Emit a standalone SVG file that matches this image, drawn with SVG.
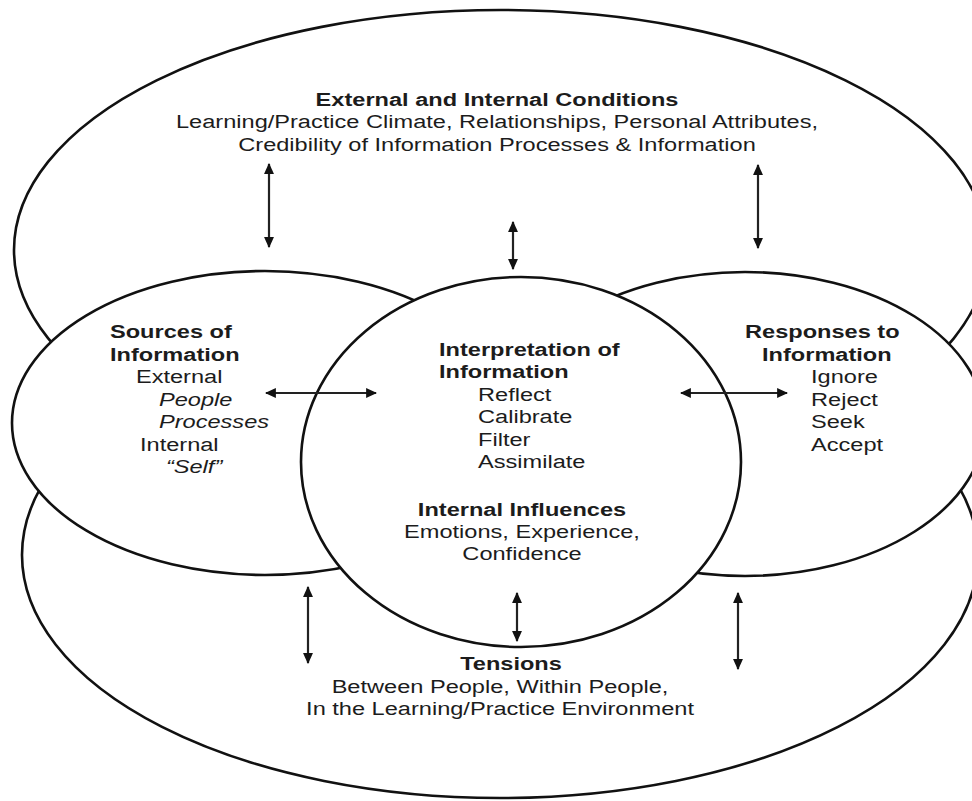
<svg xmlns="http://www.w3.org/2000/svg" width="972" height="801" viewBox="0 0 972 801">
  <defs>
    <marker id="head" viewBox="0 0 10 10" markerUnits="userSpaceOnUse" markerWidth="11" markerHeight="11" refX="9" refY="5" orient="auto-start-reverse">
      <path d="M0,0.5 L10,5 L0,9.5 z" fill="#111"/>
    </marker>
    <style>
      .ring { fill: #fff; stroke: #111; stroke-width: 2.6; }
      .link { stroke: #222; stroke-width: 2.2; fill: none; marker-start: url(#head); marker-end: url(#head); }
      text { font-family: "Liberation Sans", Arial, sans-serif; font-size: 18px; fill: #1c1c1c; }
      .b { font-weight: bold; }
      .i { font-style: italic; }
      .m { text-anchor: middle; }
    </style>
  </defs>
  <rect width="972" height="801" fill="#fff"/>

  <!-- outer context: conditions above, tensions below -->
  <g id="conditions">
    <ellipse class="ring" cx="501" cy="250" rx="487" ry="240"/>
  </g>
  <g id="tensions">
    <ellipse class="ring" cx="500" cy="555" rx="478" ry="243"/>
  </g>

  <!-- side spheres -->
  <g id="sources">
    <ellipse class="ring" cx="265" cy="423" rx="253" ry="152"/>
  </g>
  <g id="responses">
    <ellipse class="ring" cx="745" cy="424" rx="240" ry="152"/>
  </g>

  <!-- central sphere -->
  <g id="interpretation">
    <ellipse class="ring" cx="521" cy="462" rx="220" ry="185"/>
  </g>

  <!-- labels -->
  <g id="conditions-text" transform="matrix(1.31 0 0 1 497 0)">
    <text class="b m" x="0" y="106">External and Internal Conditions</text>
    <text class="m" x="0" y="128">Learning/Practice Climate, Relationships, Personal Attributes,</text>
    <text class="m" x="0" y="151">Credibility of Information Processes &amp; Information</text>
  </g>

  <g id="sources-text" transform="matrix(1.31 0 0 1 110 0)">
    <text class="b" x="0" y="338">Sources of</text>
    <text class="b" x="0" y="361">Information</text>
    <text x="19.8" y="383">External</text>
    <text class="i" x="37.4" y="406">People</text>
    <text class="i" x="37.4" y="428">Processes</text>
    <text x="22.9" y="451">Internal</text>
    <text class="i" x="42.7" y="473">“Self”</text>
  </g>

  <g id="interpretation-text" transform="matrix(1.31 0 0 1 439 0)">
    <text class="b" x="0" y="356">Interpretation of</text>
    <text class="b" x="0" y="378">Information</text>
    <text x="29.8" y="401">Reflect</text>
    <text x="29.8" y="423">Calibrate</text>
    <text x="29.8" y="446">Filter</text>
    <text x="29.8" y="468">Assimilate</text>
  </g>

  <g id="influences-text" transform="matrix(1.31 0 0 1 522 0)">
    <text class="b m" x="0" y="516">Internal Influences</text>
    <text class="m" x="0" y="538">Emotions, Experience,</text>
    <text class="m" x="0" y="560">Confidence</text>
  </g>

  <g id="responses-text" transform="matrix(1.31 0 0 1 745 0)">
    <text class="b" x="0" y="338">Responses to</text>
    <text class="b" x="13" y="361">Information</text>
    <text x="50.4" y="383">Ignore</text>
    <text x="50.4" y="406">Reject</text>
    <text x="50.4" y="428">Seek</text>
    <text x="50.4" y="451">Accept</text>
  </g>

  <g id="tensions-text">
    <g transform="matrix(1.31 0 0 1 511 0)">
      <text class="b m" x="0" y="670">Tensions</text>
    </g>
    <g transform="matrix(1.31 0 0 1 500 0)">
      <text class="m" x="0" y="693">Between People, Within People,</text>
      <text class="m" x="0" y="715">In the Learning/Practice Environment</text>
    </g>
  </g>

  <!-- two-way exchanges between the spheres -->
  <g id="connectors">
    <line class="link" x1="269" y1="164" x2="269" y2="247"/>
    <line class="link" x1="513" y1="222" x2="513" y2="269"/>
    <line class="link" x1="758" y1="165" x2="758" y2="248"/>
    <line class="link" x1="266" y1="393" x2="376" y2="393"/>
    <line class="link" x1="681" y1="393" x2="787" y2="393"/>
    <line class="link" x1="308" y1="587" x2="308" y2="663"/>
    <line class="link" x1="517" y1="593" x2="517" y2="641"/>
    <line class="link" x1="738" y1="593" x2="738" y2="669"/>
  </g>
</svg>
